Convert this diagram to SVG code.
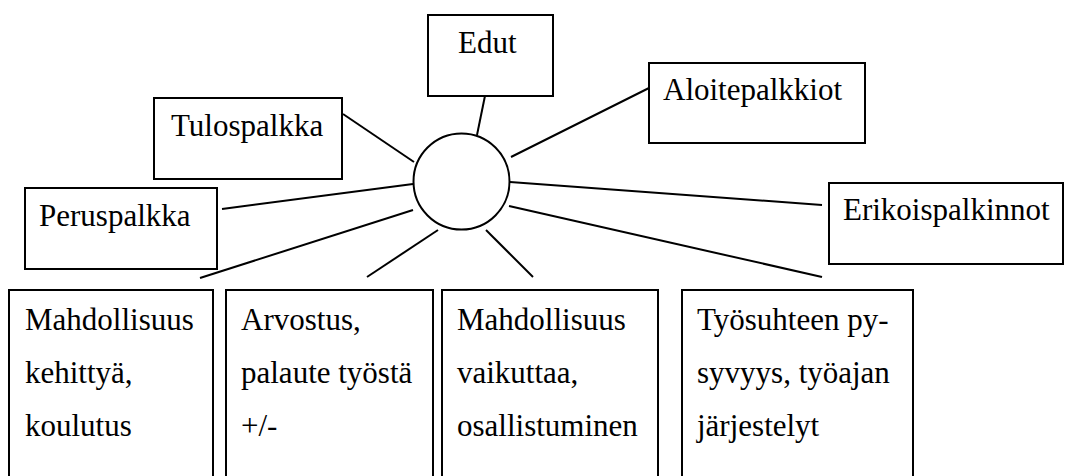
<svg xmlns="http://www.w3.org/2000/svg" width="1083" height="476" viewBox="0 0 1083 476">
<style>
.box{fill:#fff;stroke:#000;stroke-width:2}
.hub{fill:#fff;stroke:#000;stroke-width:2}
.t{font-family:'Liberation Serif','Times New Roman',Tinos,'DejaVu Serif',serif;font-size:31px;fill:#000}
.c line{stroke:#000;stroke-width:2}
</style>
<rect width="1083" height="476" fill="#fff"/>
<g id="connectors" class="c">
<line x1="487" y1="86" x2="477" y2="135"/>
<line x1="343" y1="114" x2="414" y2="162"/>
<line x1="222" y1="209" x2="413" y2="184"/>
<line x1="413" y1="210" x2="200" y2="278"/>
<line x1="438" y1="230" x2="367" y2="277"/>
<line x1="486" y1="230" x2="533" y2="277"/>
<line x1="511" y1="157" x2="655" y2="85"/>
<line x1="510" y1="182" x2="822" y2="205"/>
<line x1="509" y1="206" x2="822" y2="277"/>
</g>
<g id="hub"><circle class="hub" cx="461.5" cy="181.5" r="48"/></g>
<g id="edut"><rect class="box" x="428" y="15" width="125" height="81"/><text class="t" font-family="Liberation Serif, serif" x="458" y="53">Edut</text></g>
<g id="tulospalkka"><rect class="box" x="154" y="98" width="188" height="81"/><text class="t" font-family="Liberation Serif, serif" x="171" y="136">Tulospalkka</text></g>
<g id="peruspalkka"><rect class="box" x="25" y="188" width="192" height="81"/><text class="t" font-family="Liberation Serif, serif" x="39" y="226">Peruspalkka</text></g>
<g id="aloitepalkkiot"><rect class="box" x="649" y="63" width="216" height="80"/><text class="t" font-family="Liberation Serif, serif" x="663" y="100">Aloitepalkkiot</text></g>
<g id="erikoispalkinnot"><rect class="box" x="829" y="183" width="234" height="81"/><text class="t" font-family="Liberation Serif, serif" x="843" y="220">Erikoispalkinnot</text></g>
<g id="kehittya"><rect class="box" x="9" y="290" width="204" height="200"/><text class="t" font-family="Liberation Serif, serif"><tspan x="25" y="330">Mahdollisuus</tspan><tspan x="25" y="383">kehittyä,</tspan><tspan x="25" y="436">koulutus</tspan></text></g>
<g id="arvostus"><rect class="box" x="226" y="290" width="207" height="200"/><text class="t" font-family="Liberation Serif, serif"><tspan x="241" y="330">Arvostus,</tspan><tspan x="241" y="383">palaute työstä</tspan><tspan x="241" y="436">+/-</tspan></text></g>
<g id="vaikuttaa"><rect class="box" x="442" y="290" width="216" height="200"/><text class="t" font-family="Liberation Serif, serif"><tspan x="457" y="330">Mahdollisuus</tspan><tspan x="457" y="383">vaikuttaa,</tspan><tspan x="457" y="436">osallistuminen</tspan></text></g>
<g id="tyosuhde"><rect class="box" x="682" y="290" width="231" height="200"/><text class="t" font-family="Liberation Serif, serif"><tspan x="697" y="330">Työsuhteen py-</tspan><tspan x="697" y="383">syvyys, työajan</tspan><tspan x="697" y="436">järjestelyt</tspan></text></g>
</svg>
